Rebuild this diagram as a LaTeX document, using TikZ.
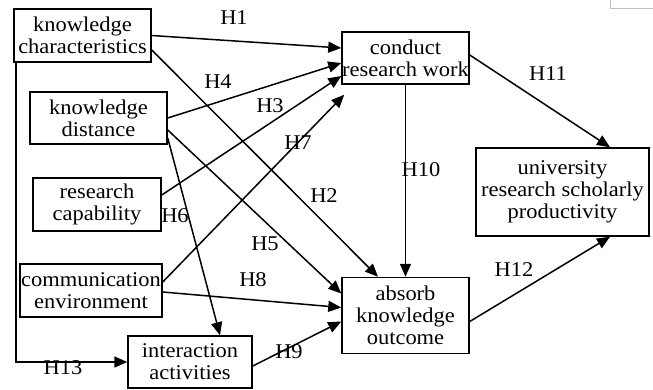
\documentclass[tikz,border=0pt]{standalone}
\usepackage{fontspec}
\setmainfont[FakeStretch=1.07]{Liberation Serif}
\usetikzlibrary{arrows.meta,positioning}
\tikzset{
	factor/.style={
		rectangle,
		draw,
		line width=1.5pt,
		align=center,
		inner sep=0pt,
		font=\fontsize{21}{22}\selectfont,
	},
	hyp/.style={
		->,
		line width=1.5pt,
	},
	tag/.style={
		inner sep=0pt,
		font=\fontsize{21}{22}\selectfont,
	}
}

\begin{document}
\begin{tikzpicture}[x=1pt,y=-1pt,node distance=192pt,>={Triangle[length=13pt,width=11pt]}]
		\useasboundingbox (0,0) rectangle (653,389);
		\node [factor,minimum width=137pt,minimum height=53pt] (kc) at (82.5,35.5) {knowledge\\characteristics};
		\node [factor,minimum width=137pt,minimum height=52pt] (kd) at (98.5,118) {knowledge\\distance};
		\node [factor,minimum width=128pt,minimum height=53pt] (rc) at (97,204.5) {research\\capability};
		\node [factor,minimum width=142pt,minimum height=53pt] (ce) at (91,290.5) {communication\\environment};
		\node [factor,minimum width=124pt,minimum height=52pt] (ia) at (190,362) {interaction\\activities};
		\node [factor,minimum width=127pt,minimum height=52pt] (crw) at (405.5,58) {conduct\\research work};
		\node [factor,minimum width=127pt,minimum height=76pt] (ako) [below= of crw] {absorb\\knowledge\\outcome};
		\node [factor,minimum width=173pt,minimum height=88pt] (urp) at (562.5,192) {university\\research scholarly\\productivity};
		\node [draw=gray!50,line width=1pt,minimum width=50pt,minimum height=14pt] (stub) at (635,1) {};
		% hypotheses
		\draw [hyp] (kc.east) -- ([yshift=10pt]crw.west);
		\draw [hyp] ([yshift=-14.5pt]kc.east) -- ([xshift=-27.5pt]ako.north);
		\draw [hyp] ([yshift=9.5pt]rc.east) -- ([yshift=-18pt]crw.west);
		\draw [hyp] (kd.east) -- ([yshift=-5pt]crw.west);
		\draw [hyp] ([yshift=-12pt]kd.east) -- ([yshift=22pt]ako.west);
		\draw [hyp] ([yshift=-20pt]kd.east) -- ([xshift=30pt]ia.north);
		\draw [hyp] ([yshift=8.5pt]ce.east) -- ([xshift=3pt,yshift=-10pt]crw.south west);
		\draw [hyp] ([yshift=-1.5pt]ce.east) -- ([yshift=8pt]ako.west);
		\draw [hyp] ([yshift=-4pt]ia.east) -- ([yshift=-6pt]ako.west);
		\draw [hyp] (crw.south) -- (ako.north);
		\draw [hyp] ([yshift=3pt]crw.east) -- ([xshift=47.5pt]urp.north);
		\draw [hyp] ([yshift=-6pt]ako.east) -- ([xshift=47.5pt]urp.south);
		\draw [hyp] ([xshift=-66.5pt]kc.south) |- (ia.west);
		% labels
		\node [tag] (h1) at (234,18) {H1};
		\node [tag] (h2) at (324,196) {H2};
		\node [tag] (h3) at (270,106) {H3};
		\node [tag] (h4) at (218,82) {H4};
		\node [tag] (h5) at (265,244) {H5};
		\node [tag] (h6) at (175,216) {H6};
		\node [tag] (h7) at (298,143) {H7};
		\node [tag] (h8) at (253,280) {H8};
		\node [tag] (h9) at (289,352) {H9};
		\node [tag] (h10) at (421,170) {H10};
		\node [tag] (h11) at (548,74) {H11};
		\node [tag] (h12) at (514,270) {H12};
		\node [tag] (h13) at (63,368) {H13};
\end{tikzpicture}
\end{document}
